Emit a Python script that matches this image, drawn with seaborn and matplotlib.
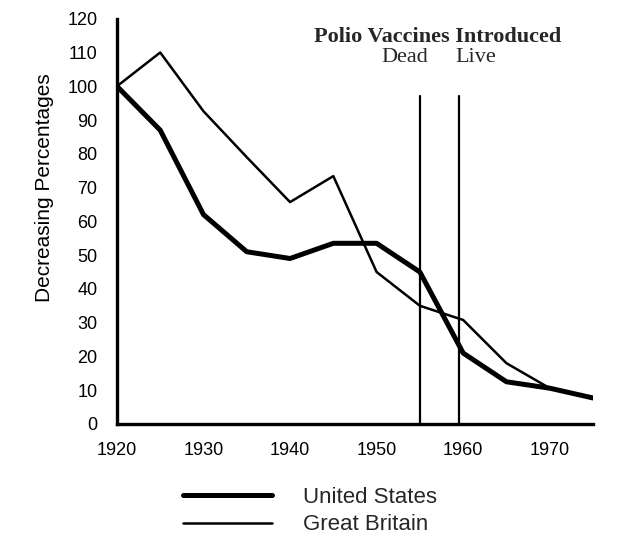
import matplotlib
matplotlib.use("Agg")
import matplotlib.pyplot as plt
import seaborn as sns
import pandas as pd

years = [1920, 1925, 1930, 1935, 1940, 1945, 1950, 1955, 1960, 1965, 1970, 1975]
united_states = [100, 87, 62, 51, 49, 53.5, 53.5, 45, 21, 12.5, 10.6, 7.7]
great_britain = [100, 110, 92.6, 79, 65.7, 73.4, 45, 35, 30.8, 18, 10.6, 7.7]
vaccine_years = [1955, 1959.5]
vaccine_names = ["Dead", "Live"]
x_ticks = [1920, 1930, 1940, 1950, 1960, 1970]
y_ticks = list(range(0, 121, 10))

df = pd.DataFrame({"year": years, "United States": united_states,
                   "Great Britain": great_britain})

sns.set_style("white")
plt.rcParams["font.family"] = ["Liberation Sans", "DejaVu Sans"]

fig = plt.figure(figsize=(6.39, 5.44), dpi=100)
ax = fig.add_axes([0.183, 0.2206, 0.745, 0.745])

sns.lineplot(data=df, x="year", y="United States", ax=ax, color="black",
             linewidth=3.6, label="United States")
sns.lineplot(data=df, x="year", y="Great Britain", ax=ax, color="black",
             linewidth=1.8, label="Great Britain")

for yr in vaccine_years:
    ax.plot([yr, yr], [0, 97], color="black", linewidth=1.6)

ax.set_xlim(1920, 1975)
ax.set_ylim(0, 120)
ax.set_xticks(x_ticks)
ax.set_yticks(y_ticks)
ax.tick_params(axis="both", labelsize=13, width=0.6,
               color="#999999", labelcolor="black")
ax.tick_params(axis="x", length=6, pad=7)
ax.tick_params(axis="y", length=10, pad=4)
sns.despine(ax=ax)
for s in ["left", "bottom"]:
    ax.spines[s].set_linewidth(2.4)
    ax.spines[s].set_color("black")
ax.set_xlabel("")
ax.set_ylabel("Decreasing Percentages", fontsize=15, color="black")
ax.yaxis.set_label_coords(-0.132, 0.583)

ax.text(1957.05, 114.7, "Polio Vaccines Introduced", ha="center", va="center",
        fontsize=16, fontweight="bold", family=["Liberation Serif"])
ax.text(1953.3, 108.4, vaccine_names[0], ha="center", va="center",
        fontsize=16, family=["Liberation Serif"])
ax.text(1961.5, 108.4, vaccine_names[1], ha="center", va="center",
        fontsize=16, family=["Liberation Serif"])

ax.legend(loc="center left", bbox_to_anchor=(183 / 639, 0.0607),
          bbox_transform=fig.transFigure, frameon=False, borderpad=0,
          borderaxespad=0, fontsize=16, handlelength=4.0,
          handletextpad=1.4, labelspacing=0.3)

fig.savefig("out.png", dpi=100)
